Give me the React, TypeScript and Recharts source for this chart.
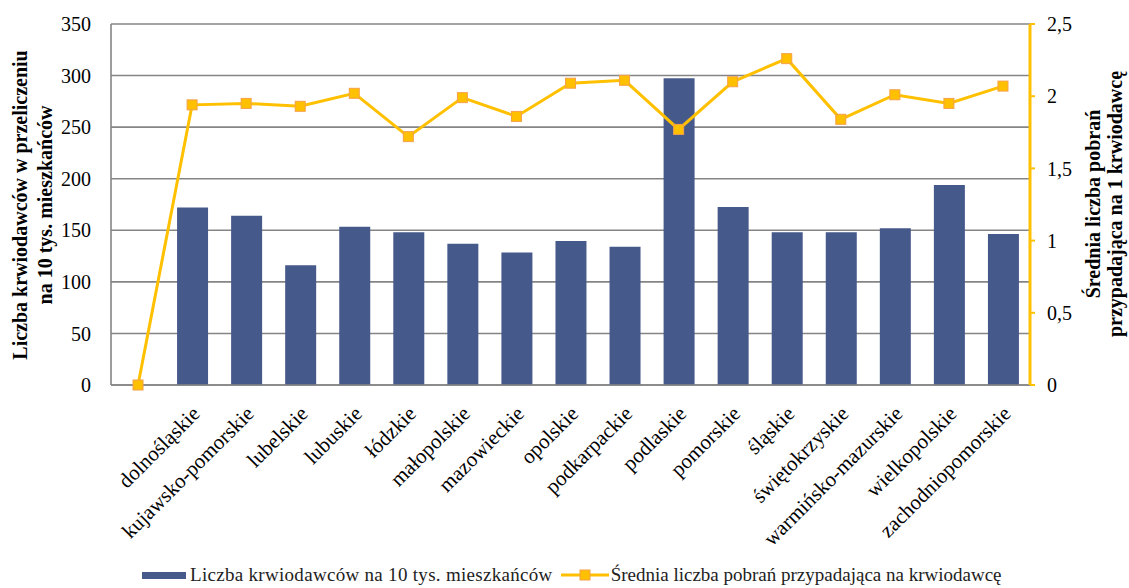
import { ComposedChart, Bar, Line, XAxis, YAxis, CartesianGrid, Legend } from 'recharts';

// first category is blank: the line starts there at 0, there is no bar
const regions = [
  '',
  'dolnośląskie',
  'kujawsko-pomorskie',
  'lubelskie',
  'lubuskie',
  'łódzkie',
  'małopolskie',
  'mazowieckie',
  'opolskie',
  'podkarpackie',
  'podlaskie',
  'pomorskie',
  'śląskie',
  'świętokrzyskie',
  'warmińsko-mazurskie',
  'wielkopolskie',
  'zachodniopomorskie',
];

const donorsPer10k = [null, 172, 164, 116, 153.5, 148, 137, 128.5, 139.5, 134, 297.5, 172.5, 148, 148, 152, 194, 146.5];
const donationsPerDonor = [0, 1.94, 1.95, 1.93, 2.02, 1.72, 1.99, 1.86, 2.09, 2.11, 1.77, 2.1, 2.26, 1.84, 2.01, 1.95, 2.07];

const leftTicks = [0, 50, 100, 150, 200, 250, 300, 350];
const rightTicks = [0, 0.5, 1, 1.5, 2, 2.5];

const leftTitle = ['Liczba krwiodawców w przeliczeniu', 'na 10 tys. mieszkańców'];
const rightTitle = ['Średnia liczba pobrań', 'przypadająca na 1 krwiodawcę'];
const barName = 'Liczba krwiodawców na 10 tys. mieszkańców';
const lineName = 'Średnia liczba pobrań przypadająca na krwiodawcę';

const data = regions.map((name, i) => ({
  name,
  donors: donorsPer10k[i],
  avg: donationsPerDonor[i],
}));

const FONT = '"Liberation Serif", "Times New Roman", serif';
const BAR = '#46598b';
const GOLD = '#ffc000';
const GOLD_EDGE = '#f5a04a';
const GRID = '#858585';

// Recharts clones the label element with its own x/y, so use other prop names
function AxisTitle({ lines, cx, cy, gap = 25 }: { lines: string[]; cx: number; cy: number; gap?: number }) {
  return (
    <text
      transform={`translate(${cx}, ${cy}) rotate(-90)`}
      textAnchor="middle"
      fontFamily={FONT}
      fontSize={20}
      fontWeight="bold"
      fill="#000"
    >
      {lines.map((line, i) => (
        <tspan key={i} x={0} dy={i === 0 ? 0 : gap}>
          {line}
        </tspan>
      ))}
    </text>
  );
}

function RegionTick(props: { x?: number; y?: number; payload?: { value: string } }) {
  const { x = 0, y = 0, payload } = props;
  if (!payload?.value) return null;
  const ax = x + 9;
  const ay = y + 30;
  return (
    <text
      x={ax}
      y={ay}
      transform={`rotate(-45, ${ax}, ${ay})`}
      textAnchor="end"
      fontFamily={FONT}
      fontSize={21}
      fill="#000"
    >
      {payload.value}
    </text>
  );
}

function SquareDot(props: { cx?: number; cy?: number; index?: number }) {
  const { cx, cy, index } = props;
  if (cx == null || cy == null) return null;
  return (
    <rect key={index} x={cx - 5} y={cy - 5} width={10} height={10} fill={GOLD} stroke={GOLD_EDGE} strokeWidth={1} />
  );
}

function LegendRow() {
  return (
    <div
      style={{
        height: 22,
        width: 1129,
        display: 'flex',
        alignItems: 'center',
        paddingLeft: 142,
        boxSizing: 'border-box',
        fontFamily: FONT,
        fontSize: 19,
        color: '#222',
        whiteSpace: 'nowrap',
      }}
    >
      <span style={{ display: 'inline-block', width: 44, height: 7, background: BAR }} />
      <span style={{ marginLeft: 4, letterSpacing: 0.3 }}>{barName}</span>
      <svg width={48} height={12} style={{ marginLeft: 8 }}>
        <line x1={0} y1={6} x2={48} y2={6} stroke={GOLD} strokeWidth={3} />
        <rect x={19} y={1} width={10} height={10} fill={GOLD} stroke={GOLD_EDGE} strokeWidth={1} />
      </svg>
      <span style={{ marginLeft: 2 }}>{lineName}</span>
    </div>
  );
}

export default function App() {
  return (
    <div style={{ position: 'absolute', left: 0, top: 0, background: '#fff' }}>
      <ComposedChart width={1129} height={588} data={data} margin={{ top: 24, right: 0, bottom: 0, left: 0 }}>
        <CartesianGrid yAxisId="left" vertical={false} stroke={GRID} strokeWidth={1.6} />
        <XAxis
          dataKey="name"
          interval={0}
          height={181}
          tick={<RegionTick />}
          tickLine={false}
          tickSize={0}
          tickMargin={0}
          axisLine={{ stroke: GRID, strokeWidth: 1.6 }}
        />
        <YAxis
          yAxisId="left"
          domain={[0, 350]}
          ticks={leftTicks}
          width={111}
          tickLine={false}
          tickSize={0}
          tickMargin={20}
          axisLine={{ stroke: GRID, strokeWidth: 1.6 }}
          tick={{ fontFamily: FONT, fontSize: 20, fill: '#000' }}
          label={<AxisTitle lines={leftTitle} cx={27} cy={205} />}
        />
        <YAxis
          yAxisId="right"
          orientation="right"
          domain={[0, 2.5]}
          ticks={rightTicks}
          width={99}
          tickSize={5}
          tickMargin={12}
          tickLine={{ stroke: GOLD, strokeWidth: 2 }}
          axisLine={{ stroke: GOLD, strokeWidth: 3 }}
          tickFormatter={(v: number) => String(v).replace('.', ',')}
          tick={{ fontFamily: FONT, fontSize: 20, fill: '#000' }}
          label={<AxisTitle lines={rightTitle} cx={1100} cy={204} gap={22} />}
        />
        <Legend verticalAlign="bottom" align="left" height={22} content={() => <LegendRow />} wrapperStyle={{ left: 0, bottom: 2 }} />
        <Bar yAxisId="left" dataKey="donors" name={barName} fill={BAR} barSize={31} isAnimationActive={false} />
        <Line
          yAxisId="right"
          type="linear"
          dataKey="avg"
          name={lineName}
          stroke={GOLD}
          strokeWidth={3}
          dot={<SquareDot />}
          activeDot={false}
          isAnimationActive={false}
        />
      </ComposedChart>
    </div>
  );
}
